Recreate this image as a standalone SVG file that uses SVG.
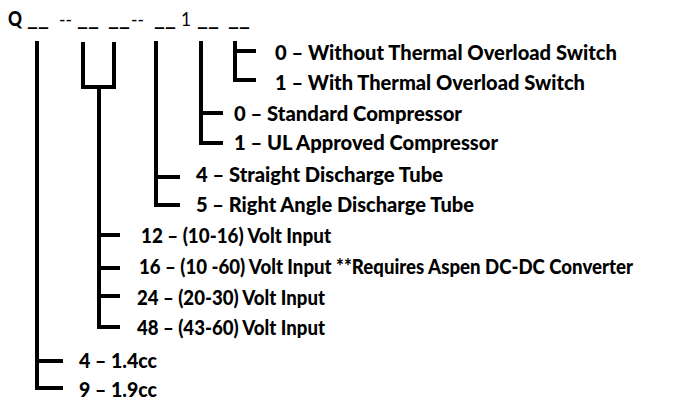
<svg xmlns="http://www.w3.org/2000/svg" width="678" height="402" viewBox="0 0 678 402">
<style>
.t{font-family:Lato,"Open Sans","Liberation Sans",sans-serif;font-weight:900;font-size:21px;fill:#000}
.s{font-size:20px}
.h{font-family:Lato,"Open Sans","Liberation Sans",sans-serif;font-size:20px;fill:#000}
.u{font-family:Lato,"Open Sans","Liberation Sans",sans-serif;font-weight:bold;font-size:20px;fill:#000}
.c{fill:none;stroke:#000;stroke-width:4;stroke-linecap:butt;stroke-linejoin:miter}
</style>
<rect width="678" height="402" fill="#fff"/>
<g id="code">
<text class="t" x="8" y="26" textLength="14" lengthAdjust="spacingAndGlyphs">Q</text>
<text class="u" x="27" y="26" textLength="22" lengthAdjust="spacingAndGlyphs">__</text>
<text class="h" x="59" y="26" textLength="13" lengthAdjust="spacingAndGlyphs">--</text>
<text class="u" x="77" y="26" textLength="22" lengthAdjust="spacingAndGlyphs">__</text>
<text class="u" x="108" y="26" textLength="22" lengthAdjust="spacingAndGlyphs">__</text>
<text class="h" x="131" y="26" textLength="13" lengthAdjust="spacingAndGlyphs">--</text>
<text class="u" x="154" y="26" textLength="22" lengthAdjust="spacingAndGlyphs">__</text>
<text class="h" x="181" y="26" textLength="10" lengthAdjust="spacingAndGlyphs">1</text>
<text class="u" x="197" y="26" textLength="22" lengthAdjust="spacingAndGlyphs">__</text>
<text class="u" x="228" y="26" textLength="22" lengthAdjust="spacingAndGlyphs">__</text>
</g>
<g id="connectors">
<path class="c" d="M37 41V388H63M37 361H63"/>
<path class="c" d="M83 42V87H114V42M99 87V327H120M99 235H120M99 268H120M99 296H120"/>
<path class="c" d="M156 41V205H180M156 177H180"/>
<path class="c" d="M201 41V143H223M201 113H223"/>
<path class="c" d="M235 41V80H256M235 51H256"/>
</g>
<g id="switch">
<text class="t" x="275" y="60" textLength="342" lengthAdjust="spacingAndGlyphs">0 – Without Thermal Overload Switch</text>
<text class="t" x="275" y="90" textLength="310" lengthAdjust="spacingAndGlyphs">1 – With Thermal Overload Switch</text>
</g>
<g id="compressor">
<text class="t" x="234" y="121" textLength="228" lengthAdjust="spacingAndGlyphs">0 – Standard Compressor</text>
<text class="t" x="234" y="150" textLength="264" lengthAdjust="spacingAndGlyphs">1 – UL Approved Compressor</text>
</g>
<g id="tube">
<text class="t" x="196" y="182" textLength="247" lengthAdjust="spacingAndGlyphs">4 – Straight Discharge Tube</text>
<text class="t" x="196" y="212" textLength="278" lengthAdjust="spacingAndGlyphs">5 – Right Angle Discharge Tube</text>
</g>
<g id="voltage">
<text class="t" x="141" y="243" textLength="190" lengthAdjust="spacingAndGlyphs">12 – (10-16) Volt Input</text>
<text class="t s" x="139" y="274" textLength="494" lengthAdjust="spacingAndGlyphs">16 – (10 -60) Volt Input **Requires Aspen DC-DC Converter</text>
<text class="t" x="137" y="305" textLength="188" lengthAdjust="spacingAndGlyphs">24 – (20-30) Volt Input</text>
<text class="t" x="137" y="335" textLength="188" lengthAdjust="spacingAndGlyphs">48 – (43-60) Volt Input</text>
</g>
<g id="displacement">
<text class="t" x="79" y="368" textLength="78" lengthAdjust="spacingAndGlyphs">4 – 1.4cc</text>
<text class="t" x="79" y="397" textLength="78" lengthAdjust="spacingAndGlyphs">9 – 1.9cc</text>
</g>
</svg>
